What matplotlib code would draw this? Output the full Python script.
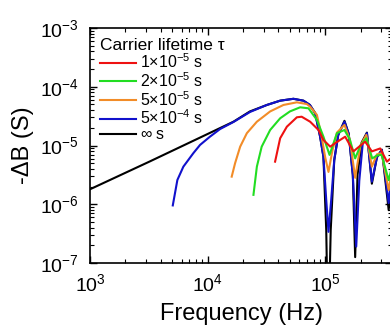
import numpy as np
import matplotlib
matplotlib.use('Agg')
import matplotlib.pyplot as plt

plt.rcParams['font.family'] = ['Liberation Sans', 'DejaVu Sans']
plt.rcParams['mathtext.fontset'] = 'custom'
plt.rcParams['mathtext.rm'] = 'Liberation Sans'
plt.rcParams['mathtext.it'] = 'Liberation Sans:italic'

# values, as log10(f / Hz) and log10(-dB / S)
inf_logf = [3.0, 3.51, 4.22, 4.36, 4.504, 4.617, 4.73, 4.815, 4.87, 4.915, 4.957, 4.985,
            5.009, 5.018, 5.035, 5.047, 5.077, 5.111, 5.164, 5.20, 5.235, 5.255, 5.275,
            5.31, 5.355, 5.397, 5.44, 5.482, 5.54, 5.57]
inf_logb = [-5.745, -5.27, -4.595, -4.42, -4.31, -4.237, -4.205, -4.237, -4.31, -4.45, -4.85, -5.19,
            -6.44, -7.5, -7.5, -6.44, -5.25, -4.82, -4.58, -4.8, -5.5, -6.9, -5.5,
            -4.95, -4.78, -5.65, -5.2, -5.07, -6.1, -5.3]

b4_logf = [3.704, 3.743, 3.794, 3.879, 3.936, 4.02, 4.106, 4.22, 4.36, 4.504, 4.617, 4.73,
           4.815, 4.87, 4.915, 4.957, 4.985, 5.009, 5.028, 5.051, 5.077, 5.111, 5.164, 5.20,
           5.235, 5.264, 5.29, 5.32, 5.355, 5.397, 5.44, 5.482, 5.54, 5.57]
b4_logb = [-6.02, -5.587, -5.36, -5.13, -4.99, -4.85, -4.72, -4.60, -4.43, -4.31, -4.237, -4.205,
           -4.237, -4.31, -4.45, -4.85, -5.19, -5.93, -6.47, -5.93, -5.25, -4.82, -4.595, -4.8,
           -5.5, -6.72, -5.6, -4.95, -4.79, -5.615, -5.2, -5.077, -5.98, -5.4]

o5_logf = [4.205, 4.234, 4.277, 4.334, 4.419, 4.532, 4.645, 4.759, 4.843, 4.872, 4.93, 4.97,
           5.0, 5.028, 5.06, 5.10, 5.164, 5.21, 5.255, 5.30, 5.35, 5.397, 5.44, 5.48, 5.54, 5.57]
o5_logb = [-5.53, -5.30, -5.02, -4.79, -4.595, -4.42, -4.31, -4.265, -4.294, -4.34, -4.48, -4.85,
           -5.2, -5.45, -5.1, -4.78, -4.65, -4.9, -5.55, -5.0, -4.82, -5.36, -5.15, -5.13, -5.76, -5.4]

g2_logf = [4.39, 4.419, 4.46, 4.532, 4.617, 4.70, 4.787, 4.858, 4.93, 4.985, 5.037, 5.10,
           5.164, 5.21, 5.255, 5.30, 5.35, 5.40, 5.44, 5.48, 5.54, 5.57]
g2_logb = [-5.84, -5.36, -5.02, -4.736, -4.537, -4.42, -4.35, -4.367, -4.566, -4.85, -5.16, -4.79,
           -4.736, -4.9, -5.22, -5.0, -4.877, -5.22, -5.17, -5.16, -5.59, -5.35]

r1_logf = [4.574, 4.617, 4.674, 4.759, 4.80, 4.872, 4.943, 4.985, 5.043, 5.085, 5.17, 5.24,
           5.34, 5.397, 5.468, 5.525, 5.57]
r1_logb = [-5.275, -4.877, -4.68, -4.52, -4.51, -4.595, -4.736, -4.906, -5.02, -4.96, -4.85, -5.1,
           -4.935, -5.1, -5.05, -5.275, -5.2]

labels = [r'1$\times$10$^{-5}$ s', r'2$\times$10$^{-5}$ s', r'5$\times$10$^{-5}$ s',
          r'5$\times$10$^{-4}$ s', r'$\infty$ s']
colors = ['#ee1111', '#22dd22', '#f28c28', '#1111cc', '#000000']
series = [(r1_logf, r1_logb), (g2_logf, g2_logb), (o5_logf, o5_logb),
          (b4_logf, b4_logb), (inf_logf, inf_logb)]

fig = plt.figure(figsize=(3.9, 3.27), dpi=100)
ax = fig.add_axes([90 / 390, 1 - 263 / 327, 302 / 390, 235 / 327])

handles = [None] * len(series)
# draw the infinite-lifetime curve first so the red one ends up on top
for i in reversed(range(len(series))):
    lf, lb = series[i]
    h, = ax.plot(10 ** np.array(lf), 10 ** np.array(lb), color=colors[i], lw=1.5,
                 label=labels[i])
    handles[i] = h

ax.set_xscale('log')
ax.set_yscale('log')
ax.set_xlim(1e3, 3.7e5)
ax.set_ylim(1e-7, 1e-3)

ax.tick_params(which='both', direction='in', top=True, right=True, labelsize=14)
ax.tick_params(which='major', length=5, width=1)
ax.tick_params(which='minor', length=3, width=0.8)
ax.tick_params(axis='y', pad=8)
ax.tick_params(axis='x', pad=7)
for s in ax.spines.values():
    s.set_linewidth(1.2)

ax.set_xlabel('Frequency (Hz)', fontsize=17, labelpad=6)
ax.set_ylabel('-ΔB (S)', fontsize=17, labelpad=4)

leg = ax.legend(handles=handles, title='Carrier lifetime τ', loc='upper left',
                bbox_to_anchor=(0.0, 1.0), frameon=False, fontsize=11.5,
                title_fontsize=12.5, handlelength=2.3, handletextpad=0.2,
                labelspacing=0.0, borderaxespad=0.5, borderpad=0.1,
                alignment='left')

fig.savefig('out.png', dpi=100)
